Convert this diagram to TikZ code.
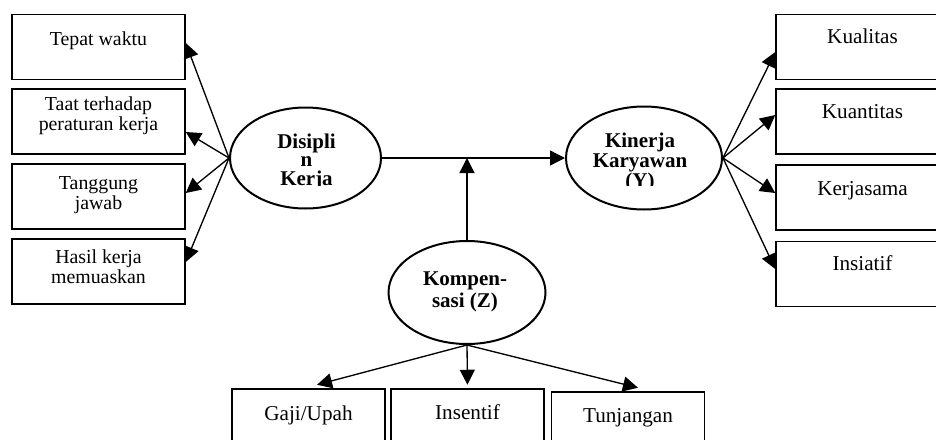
\documentclass[tikz,border=0pt]{standalone}
\usepackage{fontspec}
\setmainfont{Liberation Serif}
\usetikzlibrary{shapes.geometric,arrows.meta,calc}

\begin{document}
\begin{tikzpicture}[x=0.6pt, y=-0.6pt,
    box/.style={draw, line width=0.9pt, minimum width=103.8pt, minimum height=39pt, inner sep=0},
    bbox/.style={draw, line width=0.9pt, minimum width=92pt, minimum height=39pt, inner sep=0},
    lt/.style={anchor=base, align=center, inner sep=0, font=\fontsize{11.9}{10.2}\selectfont},
    rt/.style={anchor=base, align=center, inner sep=0, font=\fontsize{12.7}{11}\selectfont},
    var/.style={draw, ellipse, line width=1.2pt, inner sep=0},
    vt/.style={anchor=base, align=center, inner sep=0},
    arr/.style={line width=0.8pt, -{Triangle[length=9pt,width=9pt]}}]
  \clip (0,0) rectangle (936,439);
  % variabel
  \node[var, minimum width=90.6pt, minimum height=60.6pt] (D) at (305.5,158) {};
  \node[var, minimum width=93.6pt, minimum height=61.8pt] (K) at (644,158) {};
  \node[var, minimum width=94.2pt, minimum height=61.8pt] (Z) at (467,292.5) {};
  \begin{scope}
    \clip (200,100) rectangle (740,185);
    \node[vt, font=\bfseries\fontsize{12.6}{11}\selectfont] at (306.5,185) {Disipli\\n\\Kerja};
    \node[vt, font=\bfseries\fontsize{12.6}{12}\selectfont] at (640,187) {Kinerja\\Karyawan\\(Y)};
  \end{scope}
  \node[vt, font=\bfseries\fontsize{12.6}{13.2}\selectfont] at (465,307) {Kompen-\\sasi (Z)};
  % indikator disiplin kerja
  \foreach \y/\b/\d/\txt [count=\i] in {47/45/-4/{Tepat waktu}, 121.5/130/10.5/{Taat terhadap\\peraturan kerja}, 196.5/209/-3.5/{Tanggung\\jawab}, 271.5/283/-9.5/{Hasil kerja\\memuaskan}} {
    \node[box] (X\i) at (98.5,\y) {};
    \node[lt] at (98.5,\b) {\txt};
    \draw[arr] (D.west) -- ($(X\i.east)+(0,\d)$);
  }
  % indikator kinerja
  \foreach \y/\b/\d/\txt [count=\i] in {47/43/5/Kualitas, 121.5/118/-6.5/Kuantitas, 197.5/195/-4.5/Kerjasama, 274/270/-5/Insiatif} {
    \node[box] (Y\i) at (862.5,\y) {};
    \node[rt] at (862.5,\b) {\txt};
    \draw[arr] (K.east) -- ($(Y\i.west)+(0,\d)$);
  }
  % indikator kompensasi
  \foreach \x/\y/\b/\dx/\txt [count=\i] in {308.5/421.5/420/8.5/{Gaji/Upah}, 467.5/421.5/419/0/Insentif, 628/424.5/422/10/Tunjangan} {
    \node[bbox] (W\i) at (\x,\y) {};
    \node[rt] at (\x,\b) {\txt};
    \draw[arr] (Z.south) -- ($(W\i.north)+(\dx,-3.5)$);
  }
  \draw[arr] (D.east) -- (D.east -| K.west);
  \draw[arr] (Z.north) -- (Z.north |- D.east);
\end{tikzpicture}
\end{document}
